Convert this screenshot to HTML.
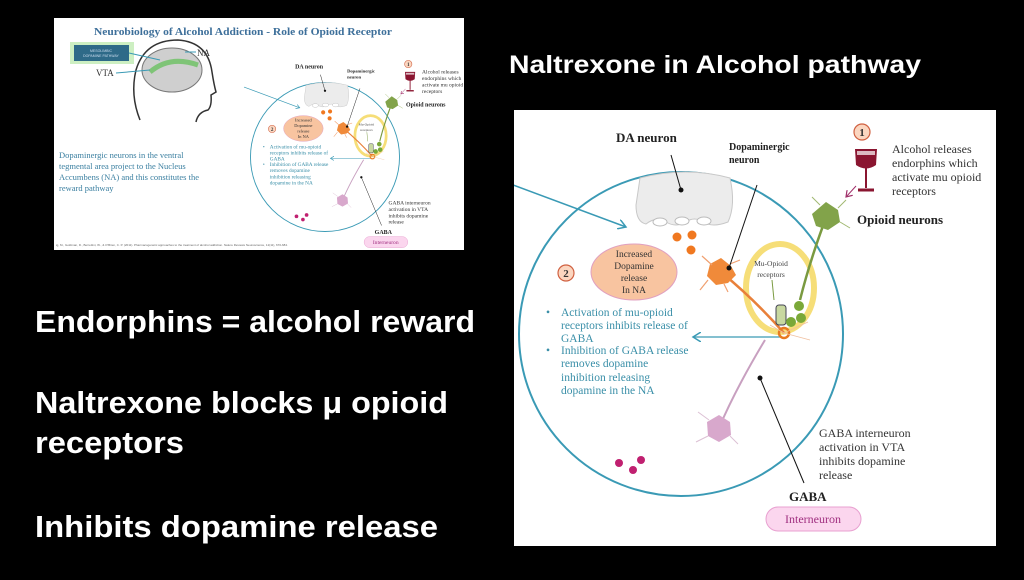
<!DOCTYPE html>
<html><head><meta charset="utf-8"><style>
html,body{margin:0;padding:0;background:#000;width:1024px;height:580px;overflow:hidden}
svg{display:block}
.s{font-family:"Liberation Serif",serif}
.w{font-family:"Liberation Sans",sans-serif;font-weight:bold;fill:#fff}
</style></head><body>
<svg width="1024" height="580" viewBox="0 0 1024 580" xmlns="http://www.w3.org/2000/svg">
<defs>
<marker id="ab" markerWidth="10" markerHeight="10" refX="8" refY="5" orient="auto" markerUnits="userSpaceOnUse"><path d="M0,0 L8,5 L0,10" fill="none" stroke="#3a9ab5" stroke-width="1.5"/></marker>
<marker id="am" markerWidth="8" markerHeight="8" refX="6" refY="4" orient="auto" markerUnits="userSpaceOnUse"><path d="M0,0 L6,4 L0,8" fill="none" stroke="#a0306a" stroke-width="1.2"/></marker>
<clipPath id="cr"><rect x="514" y="110" width="482" height="436"/></clipPath>
<clipPath id="cl"><rect x="54" y="18" width="410" height="232"/></clipPath>
</defs>

<text class="w" x="509" y="73" font-size="25" textLength="412" lengthAdjust="spacingAndGlyphs">Naltrexone in Alcohol pathway</text>
<text class="w" x="35" y="332" font-size="31" textLength="440" lengthAdjust="spacingAndGlyphs">Endorphins = alcohol reward</text>
<text class="w" x="35" y="413" font-size="31" textLength="413" lengthAdjust="spacingAndGlyphs">Naltrexone blocks μ opioid</text>
<text class="w" x="35" y="453" font-size="31" textLength="149" lengthAdjust="spacingAndGlyphs">receptors</text>
<text class="w" x="35" y="537" font-size="31" textLength="403" lengthAdjust="spacingAndGlyphs">Inhibits dopamine release</text>

<!-- RIGHT PANEL -->
<g clip-path="url(#cr)">
<rect x="514" y="110" width="482" height="436" fill="#fff"/>
<g id="diag">
<circle cx="681" cy="334" r="162" fill="none" stroke="#3a9ab5" stroke-width="2"/>
<line x1="505" y1="182" x2="626" y2="227" stroke="#3a9ab5" stroke-width="1.5" marker-end="url(#ab)"/>
<!-- DA neuron shape -->
<path d="M640,178 Q686,166 730,178 Q736,205 728,222 Q712,228 704,222 Q694,216 686,222 Q676,228 666,222 Q656,216 646,224 Q636,222 636,205 Z" fill="#ececec" stroke="#c8c8c8" stroke-width="1"/>
<ellipse cx="660" cy="222" rx="7" ry="4" fill="#fff" stroke="#bbb"/>
<ellipse cx="682" cy="221" rx="7" ry="4" fill="#fff" stroke="#bbb"/>
<ellipse cx="704" cy="221" rx="7" ry="4" fill="#fff" stroke="#bbb"/>
<text class="s" x="616" y="142" font-size="13" font-weight="bold" fill="#222">DA neuron</text>
<line x1="671" y1="155" x2="681" y2="190" stroke="#111" stroke-width="1"/>
<circle cx="681" cy="190" r="2.5" fill="#111"/>
<circle cx="677" cy="237" r="4.5" fill="#f07820"/><circle cx="692" cy="235" r="4.5" fill="#f07820"/><circle cx="691" cy="250" r="4.5" fill="#f07820"/>
<ellipse cx="634" cy="272" rx="43" ry="28" fill="#f8c4a0" stroke="#e0a0c0" stroke-width="1"/>
<g class="s" font-size="9.5" fill="#333" text-anchor="middle">
<text x="634" y="257">Increased</text><text x="634" y="269">Dopamine</text><text x="634" y="281">release</text><text x="634" y="293">In NA</text></g>
<circle cx="566" cy="273" r="8" fill="#fbd6c0" stroke="#d06040" stroke-width="1.2"/>
<text class="s" x="566" y="277" font-size="11" font-weight="bold" text-anchor="middle" fill="#333">2</text>
<g class="s" font-size="11.5" fill="#3a8fa8">
<text x="546" y="316">•</text><text x="561" y="316">Activation of mu-opioid</text>
<text x="561" y="329">receptors inhibits release of</text><text x="561" y="342">GABA</text>
<text x="546" y="354">•</text><text x="561" y="354">Inhibition of GABA release</text>
<text x="561" y="367">removes dopamine</text><text x="561" y="381">inhibition releasing</text><text x="561" y="394">dopamine in the NA</text></g>
<line x1="781" y1="337" x2="693" y2="337" stroke="#3a9ab5" stroke-width="1.3" marker-end="url(#ab)"/>
<!-- yellow ring -->
<ellipse cx="780" cy="288" rx="34" ry="44" fill="none" stroke="#f5d860" stroke-width="6" opacity="0.85"/>
<!-- orange neuron -->
<path d="M721,272 Q755,300 784,333" stroke="#e8803a" stroke-width="2.5" fill="none"/>
<polygon points="721,258 731,266 736,275 728,283 716,285 707,276 710,264" fill="#f08a3a"/>
<g stroke="#f0a070" stroke-width="1.2"><line x1="712" y1="265" x2="702" y2="256"/><line x1="730" y1="264" x2="740" y2="260"/><line x1="708" y1="280" x2="700" y2="290"/><line x1="724" y1="284" x2="728" y2="292"/></g>
<text class="s" x="729" y="150" font-size="10" font-weight="bold" fill="#222">Dopaminergic</text>
<text class="s" x="729" y="163" font-size="10" font-weight="bold" fill="#222">neuron</text>
<line x1="757" y1="185" x2="729" y2="268" stroke="#111" stroke-width="1"/>
<circle cx="729" cy="268" r="2.5" fill="#111"/>
<text class="s" x="771" y="266" font-size="7.5" fill="#444" text-anchor="middle">Mu-Opioid</text>
<text class="s" x="771" y="277" font-size="7.5" fill="#444" text-anchor="middle">receptors</text>
<line x1="772" y1="280" x2="774" y2="300" stroke="#7a9a40" stroke-width="1"/>
<rect x="776" y="305" width="10" height="20" rx="3" fill="#c8d8a0" stroke="#445" stroke-width="1"/>
<circle cx="799" cy="306" r="5" fill="#7aa838"/><circle cx="801" cy="318" r="5" fill="#7aa838"/><circle cx="791" cy="322" r="5" fill="#7aa838"/>
<!-- green neuron -->
<path d="M827,215 Q810,260 800,300" stroke="#7a9a40" stroke-width="2.5" fill="none"/>
<polygon points="826,202 838,210 840,222 828,230 816,226 812,214" fill="#82a34a"/>
<g stroke="#a0b870" stroke-width="1"><line x1="820" y1="205" x2="812" y2="197"/><line x1="838" y1="208" x2="846" y2="200"/><line x1="840" y1="222" x2="850" y2="228"/></g>
<circle cx="784" cy="333" r="5" fill="none" stroke="#e87a20" stroke-width="2.5"/>
<g stroke="#f0c0a0" stroke-width="0.8"><line x1="784" y1="333" x2="808" y2="322"/><line x1="784" y1="333" x2="810" y2="340"/><line x1="784" y1="333" x2="770" y2="325"/></g>
<!-- pink neuron -->
<path d="M719,428 Q735,390 765,340" stroke="#c8a0c0" stroke-width="2" fill="none"/>
<polygon points="719,415 730,422 731,435 719,442 708,436 707,422" fill="#d8a8cc"/>
<g stroke="#dcc0d4" stroke-width="1"><line x1="709" y1="420" x2="698" y2="412"/><line x1="708" y1="436" x2="696" y2="442"/><line x1="730" y1="436" x2="738" y2="444"/></g>
<circle cx="619" cy="463" r="4" fill="#c02070"/><circle cx="641" cy="460" r="4" fill="#c02070"/><circle cx="633" cy="470" r="4" fill="#c02070"/>
<line x1="760" y1="378" x2="804" y2="483" stroke="#111" stroke-width="1"/>
<circle cx="760" cy="378" r="2.5" fill="#111"/>
<g class="s" font-size="12" fill="#333">
<text x="819" y="437">GABA interneuron</text><text x="819" y="451">activation in VTA</text><text x="819" y="465">inhibits dopamine</text><text x="819" y="479">release</text></g>
<text class="s" x="789" y="501" font-size="13" font-weight="bold" fill="#222">GABA</text>
<rect x="766" y="507" width="95" height="24" rx="12" fill="#fbd6ee" stroke="#e8a0d0"/>
<text class="s" x="813" y="523" font-size="12" text-anchor="middle" fill="#a03080">Interneuron</text>
<!-- wine -->
<circle cx="862" cy="132" r="8" fill="#fbd6c0" stroke="#d06040" stroke-width="1.2"/>
<text class="s" x="862" y="136" font-size="11" font-weight="bold" text-anchor="middle" fill="#333">1</text>
<path d="M855,149 L877,149 L876,165 Q866,172 856,165 Z" fill="#8a1530"/>
<rect x="857" y="151" width="18" height="4" fill="#fff" opacity="0.7"/>
<line x1="866" y1="168" x2="866" y2="188" stroke="#8a1530" stroke-width="2"/>
<line x1="858" y1="190" x2="874" y2="190" stroke="#8a1530" stroke-width="3"/>
<line x1="856" y1="186" x2="846" y2="197" stroke="#a0306a" stroke-width="1" marker-end="url(#am)"/>
<g class="s" font-size="12" fill="#333">
<text x="892" y="153">Alcohol releases</text><text x="892" y="167">endorphins which</text><text x="892" y="181">activate mu opioid</text><text x="892" y="195">receptors</text></g>
<text class="s" x="857" y="224" font-size="13" font-weight="bold" fill="#222">Opioid neurons</text>
</g>
</g>

<!-- LEFT PANEL -->
<g clip-path="url(#cl)">
<rect x="54" y="18" width="410" height="232" fill="#fff"/>
<text class="s" x="94" y="35" font-size="10.5" font-weight="bold" fill="#3d6f9a" textLength="298" lengthAdjust="spacingAndGlyphs">Neurobiology of Alcohol Addiction - Role of Opioid Receptor</text>
<!-- head -->
<path d="M140,120 Q130,95 136,70 Q145,40 178,40 Q208,42 212,72 Q214,85 216,92 L211,95 Q212,106 208,110 Q198,112 196,122" fill="none" stroke="#333" stroke-width="1.5"/>
<ellipse cx="172" cy="70" rx="30" ry="22" fill="#cfcfcf" stroke="#777"/>
<path d="M150,72 Q170,55 198,65" stroke="#6ac060" stroke-width="5" fill="none" opacity="0.8"/>
<rect x="70" y="42" width="64" height="22" fill="#b8e8a8" opacity="0.7"/>
<rect x="74" y="45" width="55" height="16" fill="#2e6a88"/>
<text x="101" y="52" font-size="3.5" fill="#cde" text-anchor="middle" font-family="Liberation Sans,sans-serif">MESOLIMBIC</text>
<text x="101" y="57" font-size="3.5" fill="#cde" text-anchor="middle" font-family="Liberation Sans,sans-serif">DOPAMINE PATHWAY</text>
<line x1="129" y1="53" x2="160" y2="60" stroke="#3a9ab5"/>
<text class="s" x="197" y="56" font-size="9" fill="#333">NA</text>
<line x1="185" y1="52" x2="196" y2="52" stroke="#3a9ab5"/>
<text class="s" x="96" y="76" font-size="9" fill="#333">VTA</text>
<line x1="116" y1="73" x2="150" y2="70" stroke="#3a9ab5"/>
<g class="s" font-size="8.5" fill="#3a7fa0">
<text x="59" y="158">Dopaminergic neurons in the ventral</text>
<text x="59" y="169">tegmental area project to the Nucleus</text>
<text x="59" y="180">Accumbens (NA) and this constitutes the</text>
<text x="59" y="191">reward pathway</text></g>
<text x="56" y="246" font-size="3" fill="#666" font-family="Liberation Sans,sans-serif">ig, M., Goldman, D., Berrettini, W., &amp; O'Brien, C. P. (2011). Pharmacogenetic approaches to the treatment of alcohol addiction. Nature Reviews Neuroscience, 12(11), 670-684.</text>
<g transform="translate(325,157) scale(0.46) translate(-681,-334)">
<use href="#diag"/>
</g>
</g>
</svg>
</body></html>
